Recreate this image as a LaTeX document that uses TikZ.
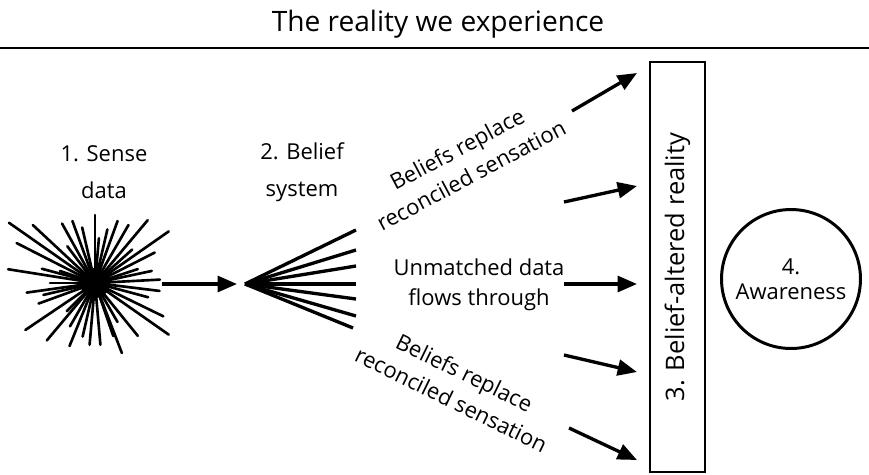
\documentclass[tikz,border=0pt]{standalone}
\usepackage{fontspec}
\setmainfont{Open Sans}
\usetikzlibrary{arrows.meta}

\tikzset{
  ray/.style={line width=1.5pt, line cap=round},
  fan/.style={line width=1.9pt},
  flow/.style={line width=1.9pt, -{Triangle[length=11pt,width=9pt]}},
  caption/.style={align=center, inner sep=0pt, font=\fontsize{12.5}{21}\selectfont},
  tilted/.style={align=center, inner sep=0pt, font=\fontsize{12.5}{17}\selectfont},
}

\begin{document}
\begin{tikzpicture}[x=0.02cm,y=-0.02cm]
\useasboundingbox (0,0) rectangle (869,474);

% heading and rule
\node[inner sep=0pt, anchor=base, font=\fontsize{16}{18}\selectfont] (title) at (438,31) {The reality we experience};
\draw[line width=1.2pt] (0,48) -- (869,48);

% 1. sense data: a burst of rays
\coordinate (sense) at (95,283);
\foreach \a/\r in {90/68, 50/82, 145/105, 137/85, 119/68, 110/66, 103/57, 77/55,
    70/66, 60/67, 35/90, 27/67, 18/45, 153/88, 171/88, 180/45, 188/69, 193/53,
    214/84, 230/75, 248/68, 265/62, 275/62, 291/75, 309/68, 334/76, 325/90,
    353/65, 42/50, 127/46, 161/37, 225/40, 257/55, 289/56, 3/65, 200/60,
    240/50, 300/45, 345/55, 85/45, 165/55, 12/58}
  \draw[ray] (sense) -- ++(-\a:\r);
\fill (sense) circle (15);
\node[caption] (senselbl) at (104,172) {1. Sense\\data};

\coordinate (sout) at (162,284);
\coordinate (bin) at (237,284);
\draw[flow] (sout) -- (bin);

% 2. belief system: a fan
\coordinate (belief) at (245,284);
\foreach \y in {230,250,266,284,299,316}
  \draw[fan] (belief) -- (356,\y);
\draw[fan] (belief) -- (353,328);
\node[caption] (belieflbl) at (302,172) {2. Belief\\system};

% what passes through the beliefs
\node[tilted, rotate=28] (upper) at (464,162) {Beliefs replace\\reconciled sensation};
\node[tilted] (middle) at (479,285) {Unmatched data\\flows through};
\node[tilted, rotate=-26] (lower) at (458,386) {Beliefs replace\\reconciled sensation};

\coordinate (t1) at (572,111); \coordinate (h1) at (637,73);
\coordinate (t2) at (564,202); \coordinate (h2) at (637,186);
\coordinate (t3) at (564,284); \coordinate (h3) at (637,284);
\coordinate (t4) at (564,355); \coordinate (h4) at (637,372);
\coordinate (t5) at (569,428); \coordinate (h5) at (637,460);
\foreach \i in {1,...,5}
  \draw[flow] (t\i) -- (h\i);

% 3. the altered reality
\node[draw, line width=1.2pt, rotate=90, minimum width=8.2cm, minimum height=1.1cm,
  font=\fontsize{14.5}{16}\selectfont] (reality) at (677.5,267) {3. Belief-altered reality};

% 4. awareness
\node[draw, circle, line width=1.7pt, minimum size=2.78cm, align=center,
  font=\fontsize{12.5}{14}\selectfont] (aware) at (791,279) {4.\\Awareness};
\end{tikzpicture}
\end{document}
